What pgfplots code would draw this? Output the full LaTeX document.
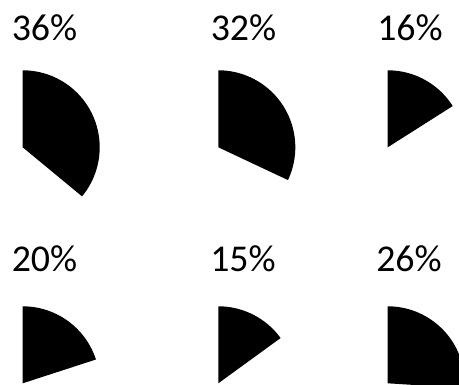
\documentclass[border=0pt]{standalone}
\usepackage{fontspec}
\setmainfont{Carlito}
\usepackage{pgfplots}
\pgfplotsset{compat=1.18}
\newcommand{\piewedge}[3]{%
  \addplot[fill=black, draw=none, domain=0:#3*3.6, samples=90, variable=\t]
    ({#1+77*sin(\t)}, {#2-77*cos(\t)}) -- (axis cs:#1,#2) -- cycle;
}
\begin{document}
\begin{tikzpicture}
\begin{axis}[
  hide axis, scale only axis,
  width=459bp, height=385bp,
  xmin=0, xmax=459, ymin=0, ymax=385,
  y dir=reverse, clip=true,
]
% wedges: centre x, centre y, percentage
\piewedge{22.7}{147.3}{36}
\piewedge{218.3}{147.3}{32}
\piewedge{387.7}{147.3}{16}
\piewedge{22.7}{383.3}{20}
\piewedge{218.3}{383.3}{15}
\piewedge{387.7}{383.3}{26}
\begin{scope}[every node/.style={anchor=base, inner sep=0pt, font=\fontsize{38}{40}\selectfont}]
\node at (axis cs:44.5,40.5) {36\%};
\node at (axis cs:243.5,40.5) {32\%};
\node at (axis cs:410,40.5) {16\%};
\node at (axis cs:44.5,271) {20\%};
\node at (axis cs:243,271) {15\%};
\node at (axis cs:409,271) {26\%};
\end{scope}
\end{axis}
\pgfresetboundingbox
\useasboundingbox (0,0) rectangle (459bp,385bp);
\end{tikzpicture}
\end{document}
